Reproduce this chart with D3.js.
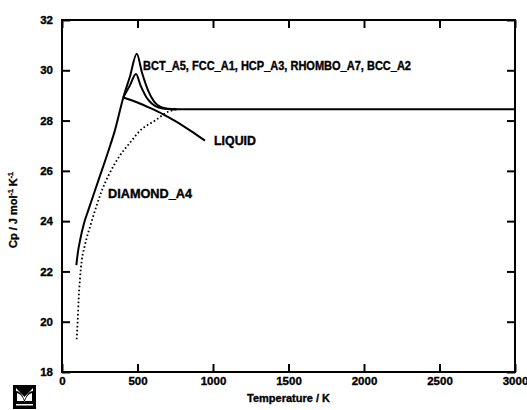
<!DOCTYPE html>
<html><head><meta charset="utf-8">
<script src="https://cdn.jsdelivr.net/npm/d3@7/dist/d3.min.js"></script>
<style>
body{margin:0;background:#fff;}
svg text{font-family:"Liberation Sans",Arial,sans-serif;font-weight:bold;fill:#000;stroke:#000;stroke-width:0.35px;}
</style></head>
<body><svg id="c" width="527" height="410"></svg>
<script>
// ---- data ----
const xTicks = [0, 500, 1000, 1500, 2000, 2500, 3000];
const yTicks = [18, 20, 22, 24, 26, 28, 30, 32];

const solidA_T  = [95, 105, 120, 145, 175, 240, 305, 350, 406, 450, 495, 530, 570, 610, 650, 700, 760, 1000, 1500, 2000, 2500, 3000];
const solidA_Cp = [22.25, 22.75, 23.25, 23.9, 24.45, 25.6, 26.75, 27.6, 28.92, 29.75, 30.66, 29.9, 29.2, 28.75, 28.55, 28.47, 28.45, 28.45, 28.45, 28.45, 28.45, 28.45];

const solidB_T  = [406, 450, 490, 520, 560, 600, 640, 700, 760];
const solidB_Cp = [28.92, 29.4, 29.85, 29.4, 28.92, 28.65, 28.52, 28.46, 28.45];

const liquid_T  = [406, 500, 583, 670, 748, 850, 947];
const liquid_Cp = [28.92, 28.72, 28.5, 28.25, 27.99, 27.6, 27.2];

const diamond_T  = [97, 104, 110, 119, 130, 150, 197, 263, 351, 461, 517, 616, 702, 760];
const diamond_Cp = [19.3, 20.05, 20.85, 21.7, 22.4, 23.0, 24.0, 25.2, 26.3, 27.2, 27.6, 28.0, 28.35, 28.45];

const labels = ["BCT_A5, FCC_A1, HCP_A3, RHOMBO_A7, BCC_A2", "LIQUID", "DIAMOND_A4"];

// ---- chart ----
const svg = d3.select("#c");
const L = 62, R = 515, T = 20, B = 372;
const x = d3.scaleLinear().domain([0, 3000]).range([L, R]);
const y = d3.scaleLinear().domain([18, 32]).range([B, T]);

const tick = 8;
const gx = svg.append("g").attr("transform", `translate(0,${B})`)
  .call(d3.axisBottom(x).tickValues(xTicks).tickFormat(d3.format("d")).tickSizeInner(-tick).tickSizeOuter(0).tickPadding(5));
const gt = svg.append("g").attr("transform", `translate(0,${T})`)
  .call(d3.axisTop(x).tickValues(xTicks).tickFormat("").tickSizeInner(-tick).tickSizeOuter(0));
const gy = svg.append("g").attr("transform", `translate(${L},0)`)
  .call(d3.axisLeft(y).tickValues(yTicks).tickFormat(d3.format("d")).tickSizeInner(-tick).tickSizeOuter(0).tickPadding(9));
const gr = svg.append("g").attr("transform", `translate(${R},0)`)
  .call(d3.axisRight(y).tickValues(yTicks).tickFormat("").tickSizeInner(-tick).tickSizeOuter(0));

[gx, gt, gy, gr].forEach(g => {
  g.select(".domain").remove();
  g.selectAll("line").attr("stroke", "#000").attr("stroke-width", 2);
  g.selectAll("text").attr("font-size", 11.5).attr("font-family", "Liberation Sans, Arial, sans-serif").attr("font-weight", "bold").attr("fill", "#000");
});

svg.append("rect").attr("x", L).attr("y", T).attr("width", R - L).attr("height", B - T)
  .attr("fill", "none").attr("stroke", "#000").attr("stroke-width", 2);

const line = d3.line().x(d => x(d[0])).y(d => y(d[1])).curve(d3.curveMonotoneX);
const zip = (a, b) => a.map((v, i) => [v, b[i]]);

svg.append("path").attr("d", line(zip(solidA_T, solidA_Cp))).attr("fill", "none").attr("stroke", "#000").attr("stroke-width", 2).attr("stroke-linejoin", "round");
svg.append("path").attr("d", line(zip(solidB_T, solidB_Cp))).attr("fill", "none").attr("stroke", "#000").attr("stroke-width", 2).attr("stroke-linejoin", "round");
svg.append("path").attr("d", line(zip(liquid_T, liquid_Cp))).attr("fill", "none").attr("stroke", "#000").attr("stroke-width", 2);
svg.append("path").attr("d", line(zip(diamond_T, diamond_Cp))).attr("fill", "none").attr("stroke", "#000").attr("stroke-width", 1.8)
  .attr("stroke-dasharray", "1.6 2.4");

svg.append("text").attr("x", 143).attr("y", 70).attr("font-size", 12)
  .attr("textLength", 268).attr("lengthAdjust", "spacingAndGlyphs").text(labels[0]);
svg.append("text").attr("x", 214).attr("y", 145).attr("font-size", 12)
  .attr("textLength", 42).attr("lengthAdjust", "spacingAndGlyphs").text(labels[1]);
svg.append("text").attr("x", 108).attr("y", 198).attr("font-size", 12)
  .attr("textLength", 84).attr("lengthAdjust", "spacingAndGlyphs").text(labels[2]);

svg.append("text").attr("x", (L + R) / 2).attr("y", 402).attr("text-anchor", "middle").attr("font-size", 11)
  .text("Temperature / K");
const yt = svg.append("text").attr("transform", "translate(17,210) rotate(-90)").attr("text-anchor", "middle").attr("font-size", 11);
yt.append("tspan").text("Cp / J mol");
yt.append("tspan").attr("font-size", 7).attr("dy", -4).text("-1");
yt.append("tspan").attr("dy", 4).text(" K");
yt.append("tspan").attr("font-size", 7).attr("dy", -4).text("-1");

const lg = svg.append("g").attr("transform", "translate(13,385)");
lg.append("rect").attr("width", 23).attr("height", 24).attr("fill", "#000");
lg.append("path").attr("d", "M3,3 L11.5,12 L20,3 L20,6 Q15,6 11.5,15 Q8,6 3,6 Z M4,8 Q9,9 11.5,17 Q14,9 19,8 L19,16 L4,16 Z").attr("fill", "#fff");
lg.append("rect").attr("x", 3).attr("y", 19).attr("width", 17).attr("height", 1.5).attr("fill", "#fff");
</script></body></html>
